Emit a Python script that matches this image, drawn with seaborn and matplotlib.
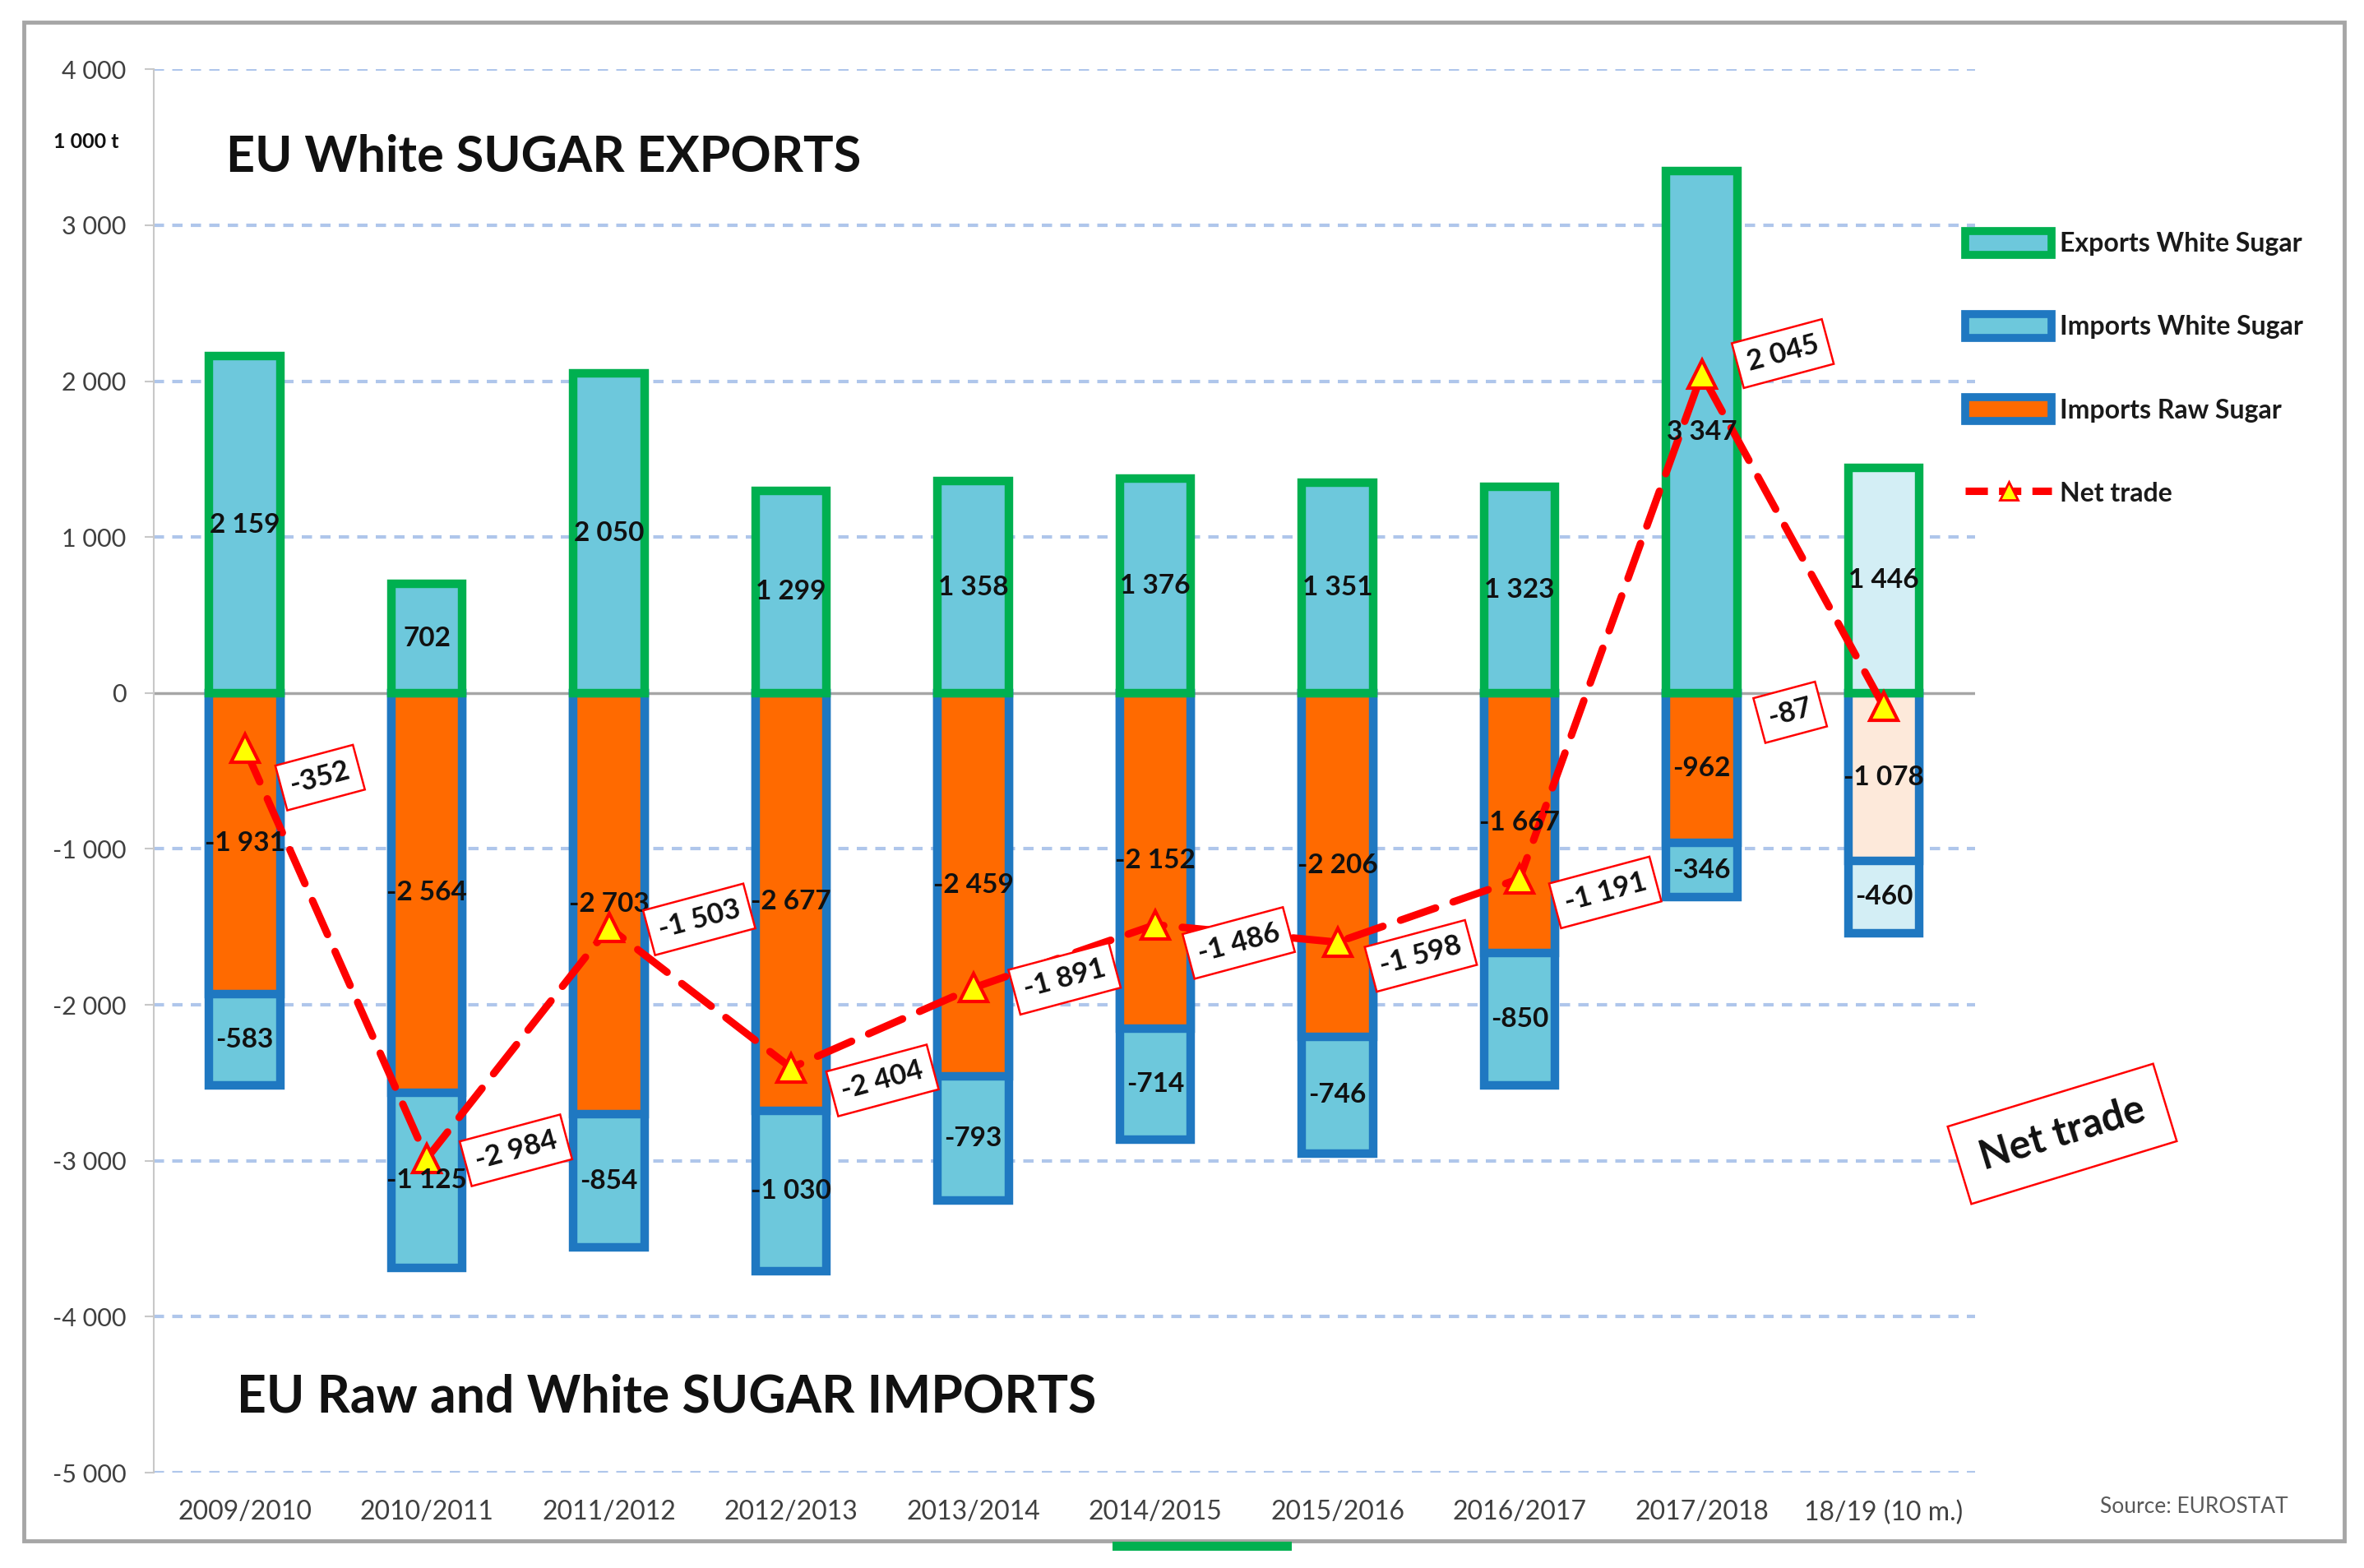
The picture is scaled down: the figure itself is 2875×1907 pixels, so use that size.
import matplotlib
matplotlib.use("Agg")
import matplotlib.pyplot as plt
import numpy as np
import pandas as pd
import seaborn as sns
from matplotlib.patches import Patch, Rectangle
from matplotlib.lines import Line2D
from matplotlib.ticker import FuncFormatter

# ---------------- data ----------------
seasons = ["2009/2010", "2010/2011", "2011/2012", "2012/2013", "2013/2014",
           "2014/2015", "2015/2016", "2016/2017", "2017/2018", "18/19 (10 m.)"]
exports_white = [2159, 702, 2050, 1299, 1358, 1376, 1351, 1323, 3347, 1446]
imports_raw = [-1931, -2564, -2703, -2677, -2459, -2152, -2206, -1667, -962, -1078]
imports_white = [-583, -1125, -854, -1030, -793, -714, -746, -850, -346, -460]
net_trade = [-352, -2984, -1503, -2404, -1891, -1486, -1598, -1191, 2045, -87]
y_ticks = list(range(-5000, 4001, 1000))

# label offsets (points) for the net-trade boxes
net_offsets = [(66, -26), (78, 7), (79, 7), (80, -11), (80, 8),
               (73, -16), (73, -12), (75, -12), (71, 18), (-82, -5)]

# ---------------- style ----------------
sns.set_theme(style="white")
plt.rcParams["font.family"] = ["Lato", "DejaVu Sans"]

GREEN = "#00B050"
BLUE = "#1F78C1"
LBLUE = "#6DC8DC"
ORANGE = "#FF6A00"
PALE_BLUE = "#D3EEF5"
PALE_ORANGE = "#FDE9DA"
RED = "#FF0000"
YELLOW = "#FFFF00"
TXT = "#404040"

n = len(seasons)
exp_fill = [LBLUE] * (n - 1) + [PALE_BLUE]
raw_fill = [ORANGE] * (n - 1) + [PALE_ORANGE]
imp_fill = [LBLUE] * (n - 1) + [PALE_BLUE]

df = pd.DataFrame({"season": seasons,
                   "exports_white": exports_white,
                   "imports_raw": imports_raw,
                   "imports_white": imports_white,
                   "net": net_trade})
df["imports_total"] = df["imports_raw"] + df["imports_white"]

fig = plt.figure(figsize=(28.75, 19.07), dpi=100)
ax = fig.add_axes([0.065, 0.0608, 0.7704, 0.895])

W = 0.39
LW = 7.5
common = dict(x="season", hue="season", legend=False, width=W, linewidth=LW,
              saturation=1, errorbar=None, ax=ax, zorder=3)
sns.barplot(data=df, y="imports_total", palette=imp_fill, edgecolor=BLUE, **common)
sns.barplot(data=df, y="imports_raw", palette=raw_fill, edgecolor=BLUE, **common)
sns.barplot(data=df, y="exports_white", palette=exp_fill, edgecolor=GREEN, **common)

def fmt(v):
    return f"{int(v):,}".replace(",", " ")

xs = np.arange(n)
lab_kw = dict(ha="center", va="center", fontsize=24, fontweight="bold",
              color="#111111", zorder=7)
for i in range(n):
    ax.text(xs[i], exports_white[i] / 2, fmt(exports_white[i]), **lab_kw)
    ax.text(xs[i], imports_raw[i] / 2, fmt(imports_raw[i]), **lab_kw)
    ax.text(xs[i], imports_raw[i] + imports_white[i] / 2, fmt(imports_white[i]), **lab_kw)

# net trade line
ax.plot(xs, net_trade, color=RED, lw=6.5, dashes=(5, 2.5),
        dash_capstyle="round", zorder=5)
ax.plot(xs, net_trade, ls="none", marker="^", ms=24, mfc=YELLOW, mec=RED,
        mew=3, zorder=6)
for i in range(n):
    ax.annotate(fmt(net_trade[i]), (xs[i], net_trade[i]),
                xytext=net_offsets[i], textcoords="offset points",
                ha="center", va="center", rotation=15, fontsize=25,
                fontweight="bold", color="#111111", zorder=8,
                bbox=dict(boxstyle="square,pad=0.35", fc="white", ec=RED, lw=1.8))

# axes
ax.set_xlim(-0.5, 9.5)
ax.set_ylim(-5000, 4000)
ax.set_yticks(y_ticks)
ax.yaxis.set_major_formatter(FuncFormatter(lambda v, p: fmt(v)))
ax.set_xlabel("")
ax.set_ylabel("")
ax.grid(False)
for t in y_ticks:
    if t == 0:
        ax.axhline(t, color="#A6A6A6", lw=2.5, zorder=2)
    else:
        ax.axhline(t, color="#AFC6EB", lw=3, dashes=(3, 2.4), zorder=1)
for s in ["top", "right", "bottom"]:
    ax.spines[s].set_visible(False)
ax.spines["left"].set_color("#C8C8C8")
ax.spines["left"].set_linewidth(1.5)
ax.tick_params(axis="y", labelsize=22, labelcolor=TXT, length=8, width=1.5,
               color="#C8C8C8", pad=16, left=True)
ax.tick_params(axis="x", labelsize=23, labelcolor=TXT, length=0, pad=24)

# texts
fig.text(275 / 2875, 1 - 191 / 1907, "EU White SUGAR EXPORTS", fontsize=44,
         fontweight="bold", color="#111111", ha="left", va="center")
fig.text(288 / 2875, 1 - 1700 / 1907, "EU Raw and White SUGAR IMPORTS", fontsize=45,
         fontweight="bold", color="#111111", ha="left", va="center")
fig.text(105 / 2875, 1 - 172 / 1907, "1 000 t", fontsize=18, fontweight="bold",
         color="#111111", ha="center", va="center")
fig.text(2668 / 2875, 1 - 1832 / 1907, "Source: EUROSTAT", fontsize=19,
         color="#595959", ha="center", va="center")
fig.text(2508 / 2875, 1 - 1379 / 1907, "Net trade", fontsize=35, fontweight="bold",
         color="#111111", ha="center", va="center", rotation=17,
         bbox=dict(boxstyle="square,pad=0.55", fc="white", ec=RED, lw=1.8))

# legend
handles = [
    Patch(facecolor=LBLUE, edgecolor=GREEN, linewidth=7, label="Exports White Sugar"),
    Patch(facecolor=LBLUE, edgecolor=BLUE, linewidth=7, label="Imports White Sugar"),
    Patch(facecolor=ORANGE, edgecolor=BLUE, linewidth=7, label="Imports Raw Sugar"),
    Line2D([], [], color=RED, lw=6.5, dashes=(3, 1.5), marker="^", ms=16,
           mfc=YELLOW, mec=RED, mew=2, label="Net trade"),
]
leg = fig.legend(handles=handles, loc="upper left",
                 bbox_to_anchor=(2390 / 2875, 1 - 281 / 1907),
                 frameon=False, borderaxespad=0, borderpad=0,
                 handlelength=3.3, handleheight=1.0, handletextpad=0.3,
                 labelspacing=2.22, prop={"size": 23, "weight": "bold"})
for t in leg.get_texts():
    t.set_color("#1A1A1A")

# outer frame
fig.add_artist(Rectangle((29 / 2875, 1 - 1874 / 1907), (2851 - 29) / 2875,
                         (1874 - 27) / 1907, transform=fig.transFigure,
                         fill=False, ec="#A6A6A6", lw=3.5, zorder=0))
fig.add_artist(Rectangle((1353 / 2875, 1 - 1886 / 1907), 218 / 2875, 11 / 1907,
                         transform=fig.transFigure, fc=GREEN, ec="none"))

fig.savefig("out.png", dpi=100, facecolor="white")
